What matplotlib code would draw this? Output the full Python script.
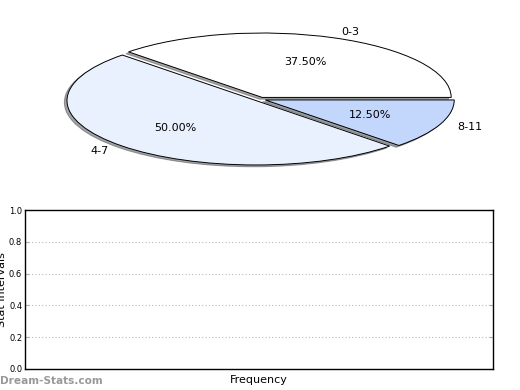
import matplotlib
matplotlib.use("Agg")
import matplotlib.pyplot as plt

labels = ["0-3", "4-7", "8-11"]
values = [37.5, 50.0, 12.5]
colors = ["#ffffff", "#eaf1fe", "#c3d7fc"]
yticks = [0.0, 0.2, 0.4, 0.6, 0.8, 1.0]

fig = plt.figure(figsize=(5.2, 3.9), dpi=100)

RX, RY, CX, CY = 189.0, 64.4, 260.0, 99.2

# Pie (stretched ellipse)
ax1 = fig.add_axes([0.0, 1 - 200 / 390, 1.0, 200 / 390])
wedges, texts, autotexts = ax1.pie(
    values, labels=labels, colors=colors, autopct="%.2f%%",
    explode=[0.03, 0.03, 0.03], shadow=dict(ox=-0.01, oy=-0.02),
    startangle=0, counterclock=True, labeldistance=1.1, pctdistance=0.6,
    wedgeprops=dict(edgecolor="black", linewidth=0.7),
    textprops=dict(fontsize=8),
)
ax1.set_aspect("auto")
ax1.set_xlim(-CX / RX, (520 - CX) / RX)
ax1.set_ylim(-(200 - CY) / RY, CY / RY)
ax1.axis("off")

# Empty bar axes
ax2 = fig.add_axes([25 / 520, 21 / 390, 468 / 520, 159 / 390])
ax2.set_ylim(0, 1)
ax2.set_yticks(yticks)
ax2.set_yticklabels([f"{t:.1f}" for t in yticks], fontsize=6)
ax2.set_xticks([])
ax2.tick_params(axis="y", direction="in", length=3, color="#aaaaaa",
                right=True, pad=2)
for y in yticks[1:-1]:
    ax2.axhline(y, color="#bbbbbb", linestyle=(0, (1, 2)), linewidth=0.8)
ax2.set_xlabel("Frequency", fontsize=8, labelpad=4)
ax2.set_ylabel("Stat Intervals", fontsize=8)
ax2.yaxis.set_label_coords(-0.038, 0.5)
for s in ax2.spines.values():
    s.set_linewidth(1.0)

fig.text(0.0, 1 - 384 / 390, "Dream-Stats.com", color="#999999",
         fontsize=7.6, fontweight="bold", ha="left", va="baseline")

fig.savefig("out.png", dpi=100)
